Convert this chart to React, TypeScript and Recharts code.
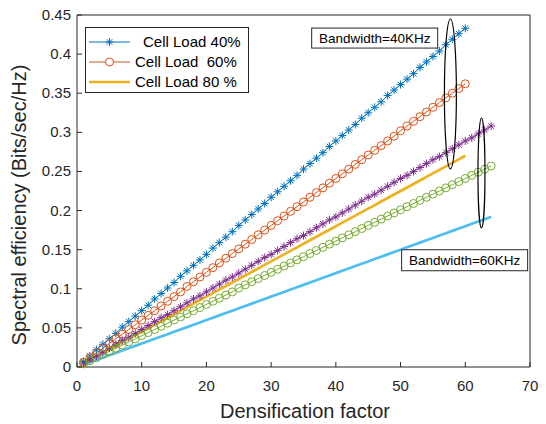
import React from 'react';
import { LineChart, Line, XAxis, YAxis, ReferenceDot } from 'recharts';

// Densification factor (x) for each plotted point
const DENSIFICATION = [
  1, 2, 3, 4, 5, 6, 7, 8, 9, 10, 11, 12, 13, 14, 15, 16, 17, 18, 19, 20,
  21, 22, 23, 24, 25, 26, 27, 28, 29, 30, 31, 32, 33, 34, 35, 36, 37, 38, 39, 40,
  41, 42, 43, 44, 45, 46, 47, 48, 49, 50, 51, 52, 53, 54, 55, 56, 57, 58, 59, 60,
  61, 62, 63, 64,
];

// Bandwidth = 40 KHz
const BW40_LOAD40 = [
  0.007, 0.014, 0.022, 0.029, 0.036, 0.043, 0.051, 0.058, 0.065, 0.072,
  0.079, 0.087, 0.094, 0.101, 0.108, 0.116, 0.123, 0.130, 0.137, 0.144,
  0.152, 0.159, 0.166, 0.173, 0.181, 0.188, 0.195, 0.202, 0.209, 0.217,
  0.224, 0.231, 0.238, 0.245, 0.253, 0.260, 0.267, 0.274, 0.282, 0.289,
  0.296, 0.303, 0.310, 0.318, 0.325, 0.332, 0.339, 0.347, 0.354, 0.361,
  0.368, 0.375, 0.383, 0.390, 0.397, 0.404, 0.412, 0.419, 0.426, 0.433,
];
const BW40_LOAD60 = [
  0.006, 0.012, 0.018, 0.024, 0.030, 0.036, 0.042, 0.048, 0.054, 0.060,
  0.066, 0.072, 0.078, 0.084, 0.090, 0.096, 0.103, 0.109, 0.115, 0.121,
  0.127, 0.133, 0.139, 0.145, 0.151, 0.157, 0.163, 0.169, 0.175, 0.181,
  0.187, 0.193, 0.199, 0.205, 0.211, 0.217, 0.223, 0.229, 0.235, 0.241,
  0.247, 0.253, 0.259, 0.265, 0.271, 0.277, 0.283, 0.289, 0.295, 0.302,
  0.308, 0.314, 0.320, 0.326, 0.332, 0.338, 0.344, 0.350, 0.356, 0.362,
];
const BW40_LOAD80 = [
  0.0045, 0.009, 0.0135, 0.018, 0.0225, 0.027, 0.0315, 0.036, 0.0405, 0.045,
  0.0495, 0.054, 0.0585, 0.063, 0.0675, 0.072, 0.0765, 0.081, 0.0855, 0.09,
  0.0945, 0.099, 0.1035, 0.108, 0.1125, 0.117, 0.1215, 0.126, 0.1305, 0.135,
  0.1395, 0.144, 0.1485, 0.153, 0.1575, 0.162, 0.1665, 0.171, 0.1755, 0.18,
  0.1845, 0.189, 0.1935, 0.198, 0.2025, 0.207, 0.2115, 0.216, 0.2205, 0.225,
  0.2295, 0.234, 0.2385, 0.243, 0.2475, 0.252, 0.2565, 0.261, 0.2655, 0.27,
];

// Bandwidth = 60 KHz
const BW60_LOAD40 = [
  0.005, 0.010, 0.014, 0.019, 0.024, 0.029, 0.034, 0.038, 0.043, 0.048,
  0.053, 0.058, 0.063, 0.067, 0.072, 0.077, 0.082, 0.087, 0.091, 0.096,
  0.101, 0.106, 0.111, 0.115, 0.120, 0.125, 0.130, 0.135, 0.140, 0.144,
  0.149, 0.154, 0.159, 0.164, 0.168, 0.173, 0.178, 0.183, 0.188, 0.192,
  0.197, 0.202, 0.207, 0.212, 0.217, 0.221, 0.226, 0.231, 0.236, 0.241,
  0.245, 0.250, 0.255, 0.260, 0.265, 0.269, 0.274, 0.279, 0.284, 0.289,
  0.293, 0.298, 0.303, 0.308,
];
const BW60_LOAD60 = [
  0.004, 0.008, 0.012, 0.016, 0.020, 0.024, 0.028, 0.032, 0.036, 0.040,
  0.044, 0.048, 0.052, 0.056, 0.060, 0.064, 0.068, 0.072, 0.076, 0.080,
  0.084, 0.088, 0.092, 0.096, 0.101, 0.105, 0.109, 0.113, 0.117, 0.121,
  0.125, 0.129, 0.133, 0.137, 0.141, 0.145, 0.149, 0.153, 0.157, 0.161,
  0.165, 0.169, 0.173, 0.177, 0.181, 0.185, 0.189, 0.193, 0.197, 0.201,
  0.205, 0.209, 0.213, 0.217, 0.221, 0.225, 0.229, 0.233, 0.237, 0.241,
  0.245, 0.249, 0.253, 0.257,
];
const BW60_LOAD80 = [
  0.003, 0.006, 0.009, 0.012, 0.015, 0.018, 0.021, 0.024, 0.027, 0.030,
  0.033, 0.036, 0.039, 0.042, 0.045, 0.048, 0.051, 0.054, 0.057, 0.060,
  0.063, 0.066, 0.069, 0.072, 0.075, 0.078, 0.081, 0.084, 0.087, 0.090,
  0.093, 0.096, 0.099, 0.102, 0.105, 0.108, 0.111, 0.114, 0.117, 0.120,
  0.123, 0.126, 0.129, 0.132, 0.135, 0.138, 0.141, 0.144, 0.147, 0.150,
  0.153, 0.156, 0.159, 0.162, 0.165, 0.168, 0.171, 0.174, 0.177, 0.180,
  0.183, 0.186, 0.189, 0.192,
];

const X_TICKS = [0, 10, 20, 30, 40, 50, 60, 70];
const Y_TICKS = [0, 0.05, 0.1, 0.15, 0.2, 0.25, 0.3, 0.35, 0.4, 0.45];

const LEGEND_LABELS = ['Cell Load 40%', 'Cell Load  60%', 'Cell Load 80 %'];
const BW_LABELS = ['Bandwidth=40KHz', 'Bandwidth=60KHz'];

const FONT = '"Liberation Sans", Arial, sans-serif';
const INK = '#262626';

type Marker = 'star' | 'circle' | 'none';
interface SeriesDef {
  id: string;
  values: number[];
  color: string;
  marker: Marker;
  width: number;
}

const SERIES: SeriesDef[] = [
  { id: 'bw40l40', values: BW40_LOAD40, color: '#0072BD', marker: 'star', width: 1 },
  { id: 'bw40l60', values: BW40_LOAD60, color: '#D95319', marker: 'circle', width: 1 },
  { id: 'bw40l80', values: BW40_LOAD80, color: '#EDB120', marker: 'none', width: 2.7 },
  { id: 'bw60l40', values: BW60_LOAD40, color: '#7E2F8E', marker: 'star', width: 1 },
  { id: 'bw60l60', values: BW60_LOAD60, color: '#77AC30', marker: 'circle', width: 1 },
  { id: 'bw60l80', values: BW60_LOAD80, color: '#4DBEEE', marker: 'none', width: 2.7 },
];

const toPoints = (values: number[]) =>
  values.map((v, i) => ({ x: DENSIFICATION[i], y: v }));

const StarGlyph = ({ cx, cy, color }: { cx: number; cy: number; color: string }) => {
  const r = 4;
  const d = r * 0.7071;
  return (
    <g stroke={color} strokeWidth={1} fill="none">
      <line x1={cx - r} y1={cy} x2={cx + r} y2={cy} />
      <line x1={cx} y1={cy - r} x2={cx} y2={cy + r} />
      <line x1={cx - d} y1={cy - d} x2={cx + d} y2={cy + d} />
      <line x1={cx - d} y1={cy + d} x2={cx + d} y2={cy - d} />
    </g>
  );
};

const makeDot = (marker: Marker, color: string) => {
  if (marker === 'none') return false;
  return (props: any) => {
    const { cx, cy, index } = props;
    if (cx == null || cy == null) return <g key={`d${index}`} />;
    if (marker === 'star') {
      return (
        <g key={`d${index}`}>
          <StarGlyph cx={cx} cy={cy} color={color} />
        </g>
      );
    }
    return (
      <circle key={`d${index}`} cx={cx} cy={cy} r={4} fill="none" stroke={color} strokeWidth={1} />
    );
  };
};

const BottomTick = (props: any) => {
  const { x, y, payload } = props;
  return (
    <g>
      <line x1={x} y1={y} x2={x} y2={y - 5} stroke={INK} strokeWidth={1} />
      <text x={x} y={y + 24} textAnchor="middle" fontSize={15} fill={INK} fontFamily={FONT}>
        {payload.value}
      </text>
    </g>
  );
};
const TopTick = (props: any) => {
  const { x, y } = props;
  return <line x1={x} y1={y} x2={x} y2={y + 5} stroke={INK} strokeWidth={1} />;
};
const LeftTick = (props: any) => {
  const { x, y, payload } = props;
  return (
    <g>
      <line x1={x} y1={y} x2={x + 5} y2={y} stroke={INK} strokeWidth={1} />
      <text x={x - 6} y={y + 5} textAnchor="end" fontSize={15} fill={INK} fontFamily={FONT}>
        {payload.value}
      </text>
    </g>
  );
};
const RightTick = (props: any) => {
  const { x, y } = props;
  return <line x1={x} y1={y} x2={x - 5} y2={y} stroke={INK} strokeWidth={1} />;
};

const EllipseShape = (rx: number, ry: number) => (props: any) => (
  <ellipse cx={props.cx} cy={props.cy} rx={rx} ry={ry} fill="none" stroke="#000" strokeWidth={1.2} />
);

const BoxLabel = (text: string, w: number, h: number) => (props: any) => (
  <g>
    <rect x={props.cx - w / 2} y={props.cy - h / 2} width={w} height={h} fill="#fff" stroke={INK} strokeWidth={1} />
    <text x={props.cx} y={props.cy + 5} textAnchor="middle" fontSize={13.5} fill="#000" fontFamily={FONT}>
      {text}
    </text>
  </g>
);

const Legend = () => {
  const rows = [0, 1, 2];
  return (
    <svg
      width={165}
      height={67}
      style={{ position: 'absolute', left: 85, top: 27 }}
    >
      <rect x={0.5} y={0.5} width={163} height={65} fill="#fff" stroke={INK} strokeWidth={1} />
      {rows.map((i) => {
        const s = SERIES[i];
        const cy = 15 + i * 20;
        return (
          <g key={s.id}>
            <line x1={4} y1={cy} x2={45} y2={cy} stroke={s.color} strokeWidth={s.width} />
            {s.marker === 'star' && <StarGlyph cx={24.5} cy={cy} color={s.color} />}
            {s.marker === 'circle' && (
              <circle cx={24.5} cy={cy} r={4} fill="#fff" stroke={s.color} strokeWidth={1} />
            )}
            <text
              x={i === 0 ? 58 : 50}
              y={cy + 5}
              fontSize={15}
              fill="#000"
              fontFamily={FONT}
              style={{ whiteSpace: 'pre' }}
            >
              {LEGEND_LABELS[i]}
            </text>
          </g>
        );
      })}
    </svg>
  );
};

export default function App() {
  return (
    <div style={{ position: 'absolute', left: 0, top: 0, width: 546, height: 424, background: '#fff' }}>
      <LineChart
        width={546}
        height={424}
        margin={{ top: 14, right: 15, bottom: 56, left: 76 }}
        style={{ fontFamily: FONT }}
      >
        <XAxis
          dataKey="x"
          type="number"
          domain={[0, 70]}
          ticks={X_TICKS}
          height={1}
          tickSize={0}
          tickMargin={0}
          tickLine={false}
          tick={BottomTick}
          axisLine={{ stroke: INK }}
          interval={0}
        />
        <XAxis
          xAxisId="top"
          orientation="top"
          type="number"
          domain={[0, 70]}
          ticks={X_TICKS}
          height={1}
          tickSize={0}
          tickMargin={0}
          tickLine={false}
          tick={TopTick}
          axisLine={{ stroke: INK }}
          interval={0}
        />
        <YAxis
          type="number"
          domain={[0, 0.45]}
          ticks={Y_TICKS}
          width={1}
          tickSize={0}
          tickMargin={0}
          tickLine={false}
          tick={LeftTick}
          axisLine={{ stroke: INK }}
          interval={0}
        />
        <YAxis
          yAxisId="right"
          orientation="right"
          type="number"
          domain={[0, 0.45]}
          ticks={Y_TICKS}
          width={1}
          tickSize={0}
          tickMargin={0}
          tickLine={false}
          tick={RightTick}
          axisLine={{ stroke: INK }}
          interval={0}
        />
        {SERIES.map((s) => (
          <Line
            key={s.id}
            data={toPoints(s.values)}
            dataKey="y"
            type="linear"
            stroke={s.color}
            strokeWidth={s.width}
            dot={makeDot(s.marker, s.color)}
            activeDot={false}
            isAnimationActive={false}
          />
        ))}
        <ReferenceDot x={57.7} y={0.349} r={1} shape={EllipseShape(6, 75)} ifOverflow="visible" />
        <ReferenceDot x={62.5} y={0.248} r={1} shape={EllipseShape(3.5, 55)} ifOverflow="visible" />
        <ReferenceDot x={46.0} y={0.4205} r={1} shape={BoxLabel(BW_LABELS[0], 126, 20)} ifOverflow="visible" />
        <ReferenceDot x={59.9} y={0.1365} r={1} shape={BoxLabel(BW_LABELS[1], 126, 21)} ifOverflow="visible" />
      </LineChart>
      <Legend />
      <svg width={546} height={424} style={{ position: 'absolute', left: 0, top: 0, pointerEvents: 'none' }}>
        <text x={305} y={418} textAnchor="middle" fontSize={20} fill={INK} fontFamily={FONT}>
          Densification factor
        </text>
        <text
          x={0}
          y={0}
          transform="translate(26 205) rotate(-90)"
          textAnchor="middle"
          fontSize={20}
          fill={INK}
          fontFamily={FONT}
        >
          Spectral efficiency (Bits/sec/Hz)
        </text>
      </svg>
    </div>
  );
}
